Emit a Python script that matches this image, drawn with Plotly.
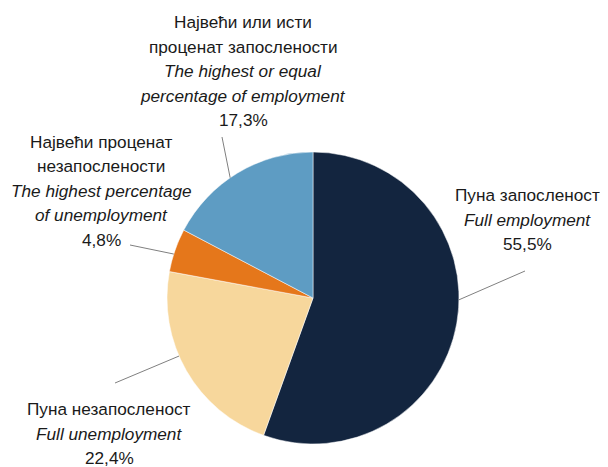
import math
import plotly.graph_objects as go

# ---- data ----
labels_sr = [["Пуна запосленост"], ["Пуна незапосленост"],
             ["Највећи проценат", "незапослености"],
             ["Највећи или исти", "проценат запослености"]]
labels_en = [["Full employment"], ["Full unemployment"],
             ["The highest percentage", "of unemployment"],
             ["The highest or equal", "percentage of employment"]]
values = [55.5, 22.4, 4.8, 17.3]
colors = ["#13253f", "#f7d79c", "#e5771b", "#5e9cc3"]

# ---- layout (page pixels; page has an 8px body margin) ----
OFF = 8
W, H = 608 - OFF, 467 - OFF
cx, cy, R = 313, 298, 146


def px(x):
    return (x - OFF) / W


def py(y):
    return 1 - (y - OFF) / H


fig = go.Figure(go.Pie(
    values=values,
    labels=[" ".join(s) for s in labels_sr],
    sort=False, direction="clockwise", rotation=0,
    marker=dict(colors=colors, line=dict(color="white", width=0.5)),
    textinfo="none", hoverinfo="label+percent", showlegend=False,
    domain=dict(x=[px(cx - R), px(cx + R)], y=[py(cy + R), py(cy - R)]),
))

start_frac = [0.454, 0.58, 0.41, 0.445]
leader_end = [(525, 271), (115, 383), (130, 245), (222, 137)]
text_x = [527, 109, 101, 243]
first_baseline = [201, 415, 147.5, 28]
LINE = 24.5
FS = 17.2
FONT = "Liberation Sans, Arial, sans-serif"

shapes, annots = [], []
total = sum(values)
cum = 0.0
for i, v in enumerate(values):
    a0 = cum / total * 360
    a1 = (cum + v) / total * 360
    cum += v
    th = math.radians(a0 + (a1 - a0) * start_frac[i])
    sx, sy = cx + R * math.sin(th), cy - R * math.cos(th)
    ex, ey = leader_end[i]
    shapes.append(dict(type="line", xref="paper", yref="paper",
                       x0=px(sx), y0=py(sy), x1=px(ex), y1=py(ey),
                       line=dict(color="#808080", width=1)))
    pct = f"{v:.1f}".replace(".", ",") + "%"
    lines = labels_sr[i] + [f"<i>{t}</i>" for t in labels_en[i]] + [pct]
    for k, t in enumerate(lines):
        base = first_baseline[i] + k * LINE
        annots.append(dict(xref="paper", yref="paper", x=px(text_x[i]), y=py(base - 0.3465 * FS),
                           xanchor="center", yanchor="middle", showarrow=False, borderpad=0,
                           text=t, font=dict(family=FONT, size=FS, color="#1a1a1a")))

fig.update_layout(width=W, height=H, margin=dict(l=0, r=0, t=0, b=0),
                  paper_bgcolor="white", plot_bgcolor="white",
                  shapes=shapes, annotations=annots)
fig.write_html("out.html")
